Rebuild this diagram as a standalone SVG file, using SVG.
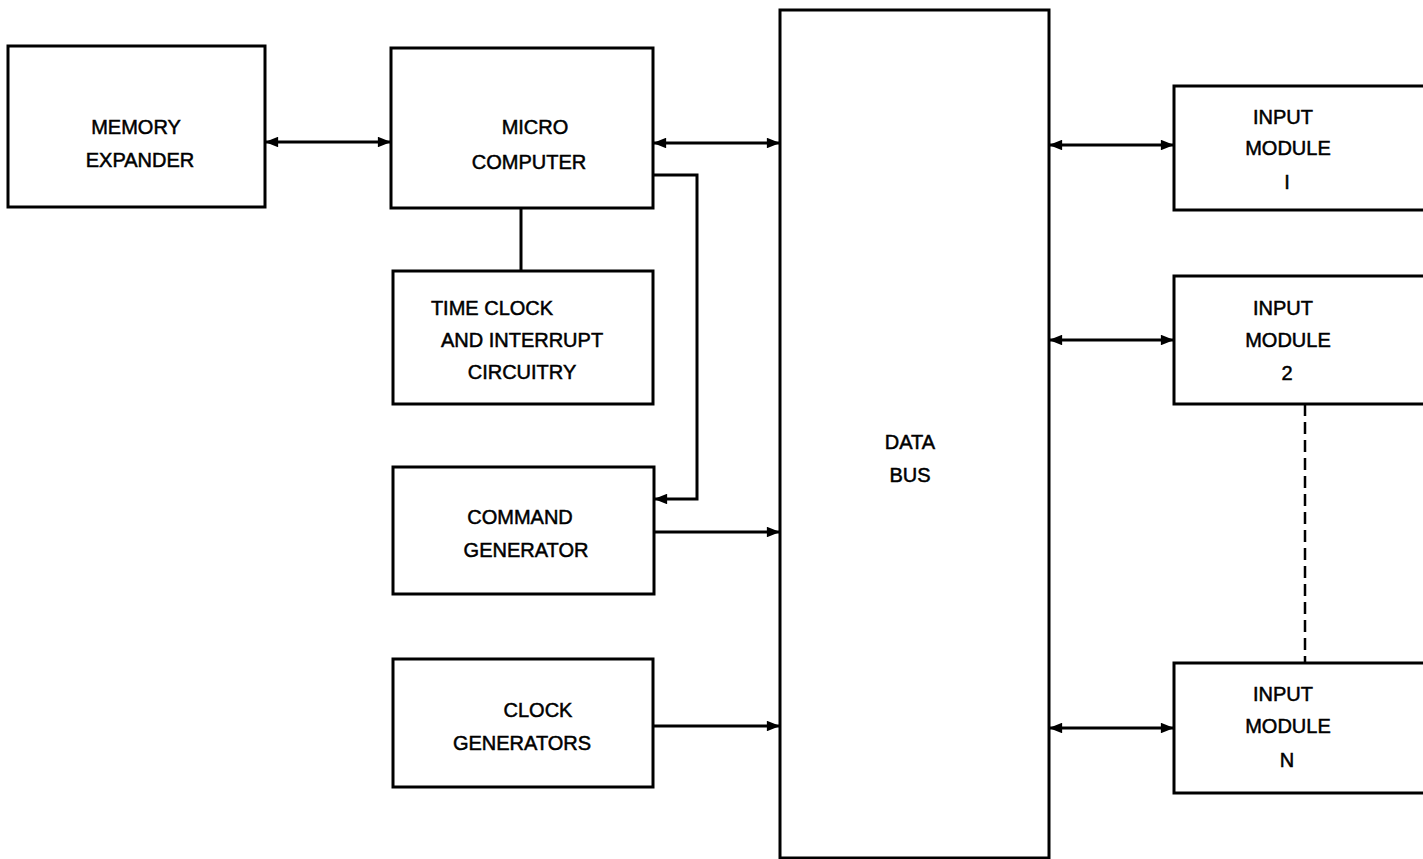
<svg xmlns="http://www.w3.org/2000/svg" width="1423" height="859" viewBox="0 0 1423 859">
<style>
.box{fill:#fff;stroke:#000;stroke-width:3}
.ln{fill:none;stroke:#000;stroke-width:3}
.t{font-family:"Liberation Sans",Arial,sans-serif;font-size:20px;fill:#000;stroke:#000;stroke-width:0.5;text-anchor:middle}
</style>
<defs>
<marker id="ah" viewBox="0 0 10 8" refX="10" refY="4" markerWidth="5" markerHeight="3.5" orient="auto-start-reverse" markerUnits="strokeWidth">
<path d="M0,0 L10,4 L0,8 z" fill="#000"/>
</marker>
</defs>
<rect width="1423" height="859" fill="#fff"/>
<g id="connectors">
<line class="ln" x1="265" y1="142" x2="391" y2="142" marker-start="url(#ah)" marker-end="url(#ah)"/>
<line class="ln" x1="653" y1="143" x2="780" y2="143" marker-start="url(#ah)" marker-end="url(#ah)"/>
<line class="ln" x1="521" y1="208" x2="521" y2="271"/>
<polyline class="ln" points="653,175 697,175 697,499 654,499" marker-end="url(#ah)"/>
<line class="ln" x1="654" y1="532" x2="780" y2="532" marker-end="url(#ah)"/>
<line class="ln" x1="653" y1="726" x2="780" y2="726" marker-end="url(#ah)"/>
<line class="ln" x1="1049" y1="145" x2="1174" y2="145" marker-start="url(#ah)" marker-end="url(#ah)"/>
<line class="ln" x1="1049" y1="340" x2="1174" y2="340" marker-start="url(#ah)" marker-end="url(#ah)"/>
<line class="ln" x1="1049" y1="728" x2="1174" y2="728" marker-start="url(#ah)" marker-end="url(#ah)"/>
<line x1="1305" y1="404" x2="1305" y2="663" stroke="#000" stroke-width="2.5" stroke-dasharray="12,6"/>
</g>
<g id="memory-expander">
<rect class="box" x="8" y="46" width="257" height="161"/>
<text class="t" x="136" y="134">MEMORY</text>
<text class="t" x="140" y="167">EXPANDER</text>
</g>
<g id="micro-computer">
<rect class="box" x="391" y="48" width="262" height="160"/>
<text class="t" x="535" y="134">MICRO</text>
<text class="t" x="529" y="169">COMPUTER</text>
</g>
<g id="time-clock">
<rect class="box" x="393" y="271" width="260" height="133"/>
<text class="t" x="492" y="315">TIME CLOCK</text>
<text class="t" x="522" y="347">AND INTERRUPT</text>
<text class="t" x="522" y="379">CIRCUITRY</text>
</g>
<g id="command-generator">
<rect class="box" x="393" y="467" width="261" height="127"/>
<text class="t" x="520" y="524">COMMAND</text>
<text class="t" x="526" y="557">GENERATOR</text>
</g>
<g id="clock-generators">
<rect class="box" x="393" y="659" width="260" height="128"/>
<text class="t" x="538" y="717">CLOCK</text>
<text class="t" x="522" y="750">GENERATORS</text>
</g>
<g id="data-bus">
<rect class="box" x="780" y="10" width="269" height="848"/>
<text class="t" x="910" y="449">DATA</text>
<text class="t" x="910" y="482">BUS</text>
</g>
<g id="input-module-1">
<rect class="box" x="1174" y="86" width="260" height="124"/>
<text class="t" x="1283" y="124">INPUT</text>
<text class="t" x="1288" y="155">MODULE</text>
<text class="t" x="1287" y="189">I</text>
</g>
<g id="input-module-2">
<rect class="box" x="1174" y="276" width="260" height="128"/>
<text class="t" x="1283" y="315">INPUT</text>
<text class="t" x="1288" y="347">MODULE</text>
<text class="t" x="1287" y="380">2</text>
</g>
<g id="input-module-n">
<rect class="box" x="1174" y="663" width="260" height="130"/>
<text class="t" x="1283" y="701">INPUT</text>
<text class="t" x="1288" y="733">MODULE</text>
<text class="t" x="1287" y="767">N</text>
</g>
</svg>
